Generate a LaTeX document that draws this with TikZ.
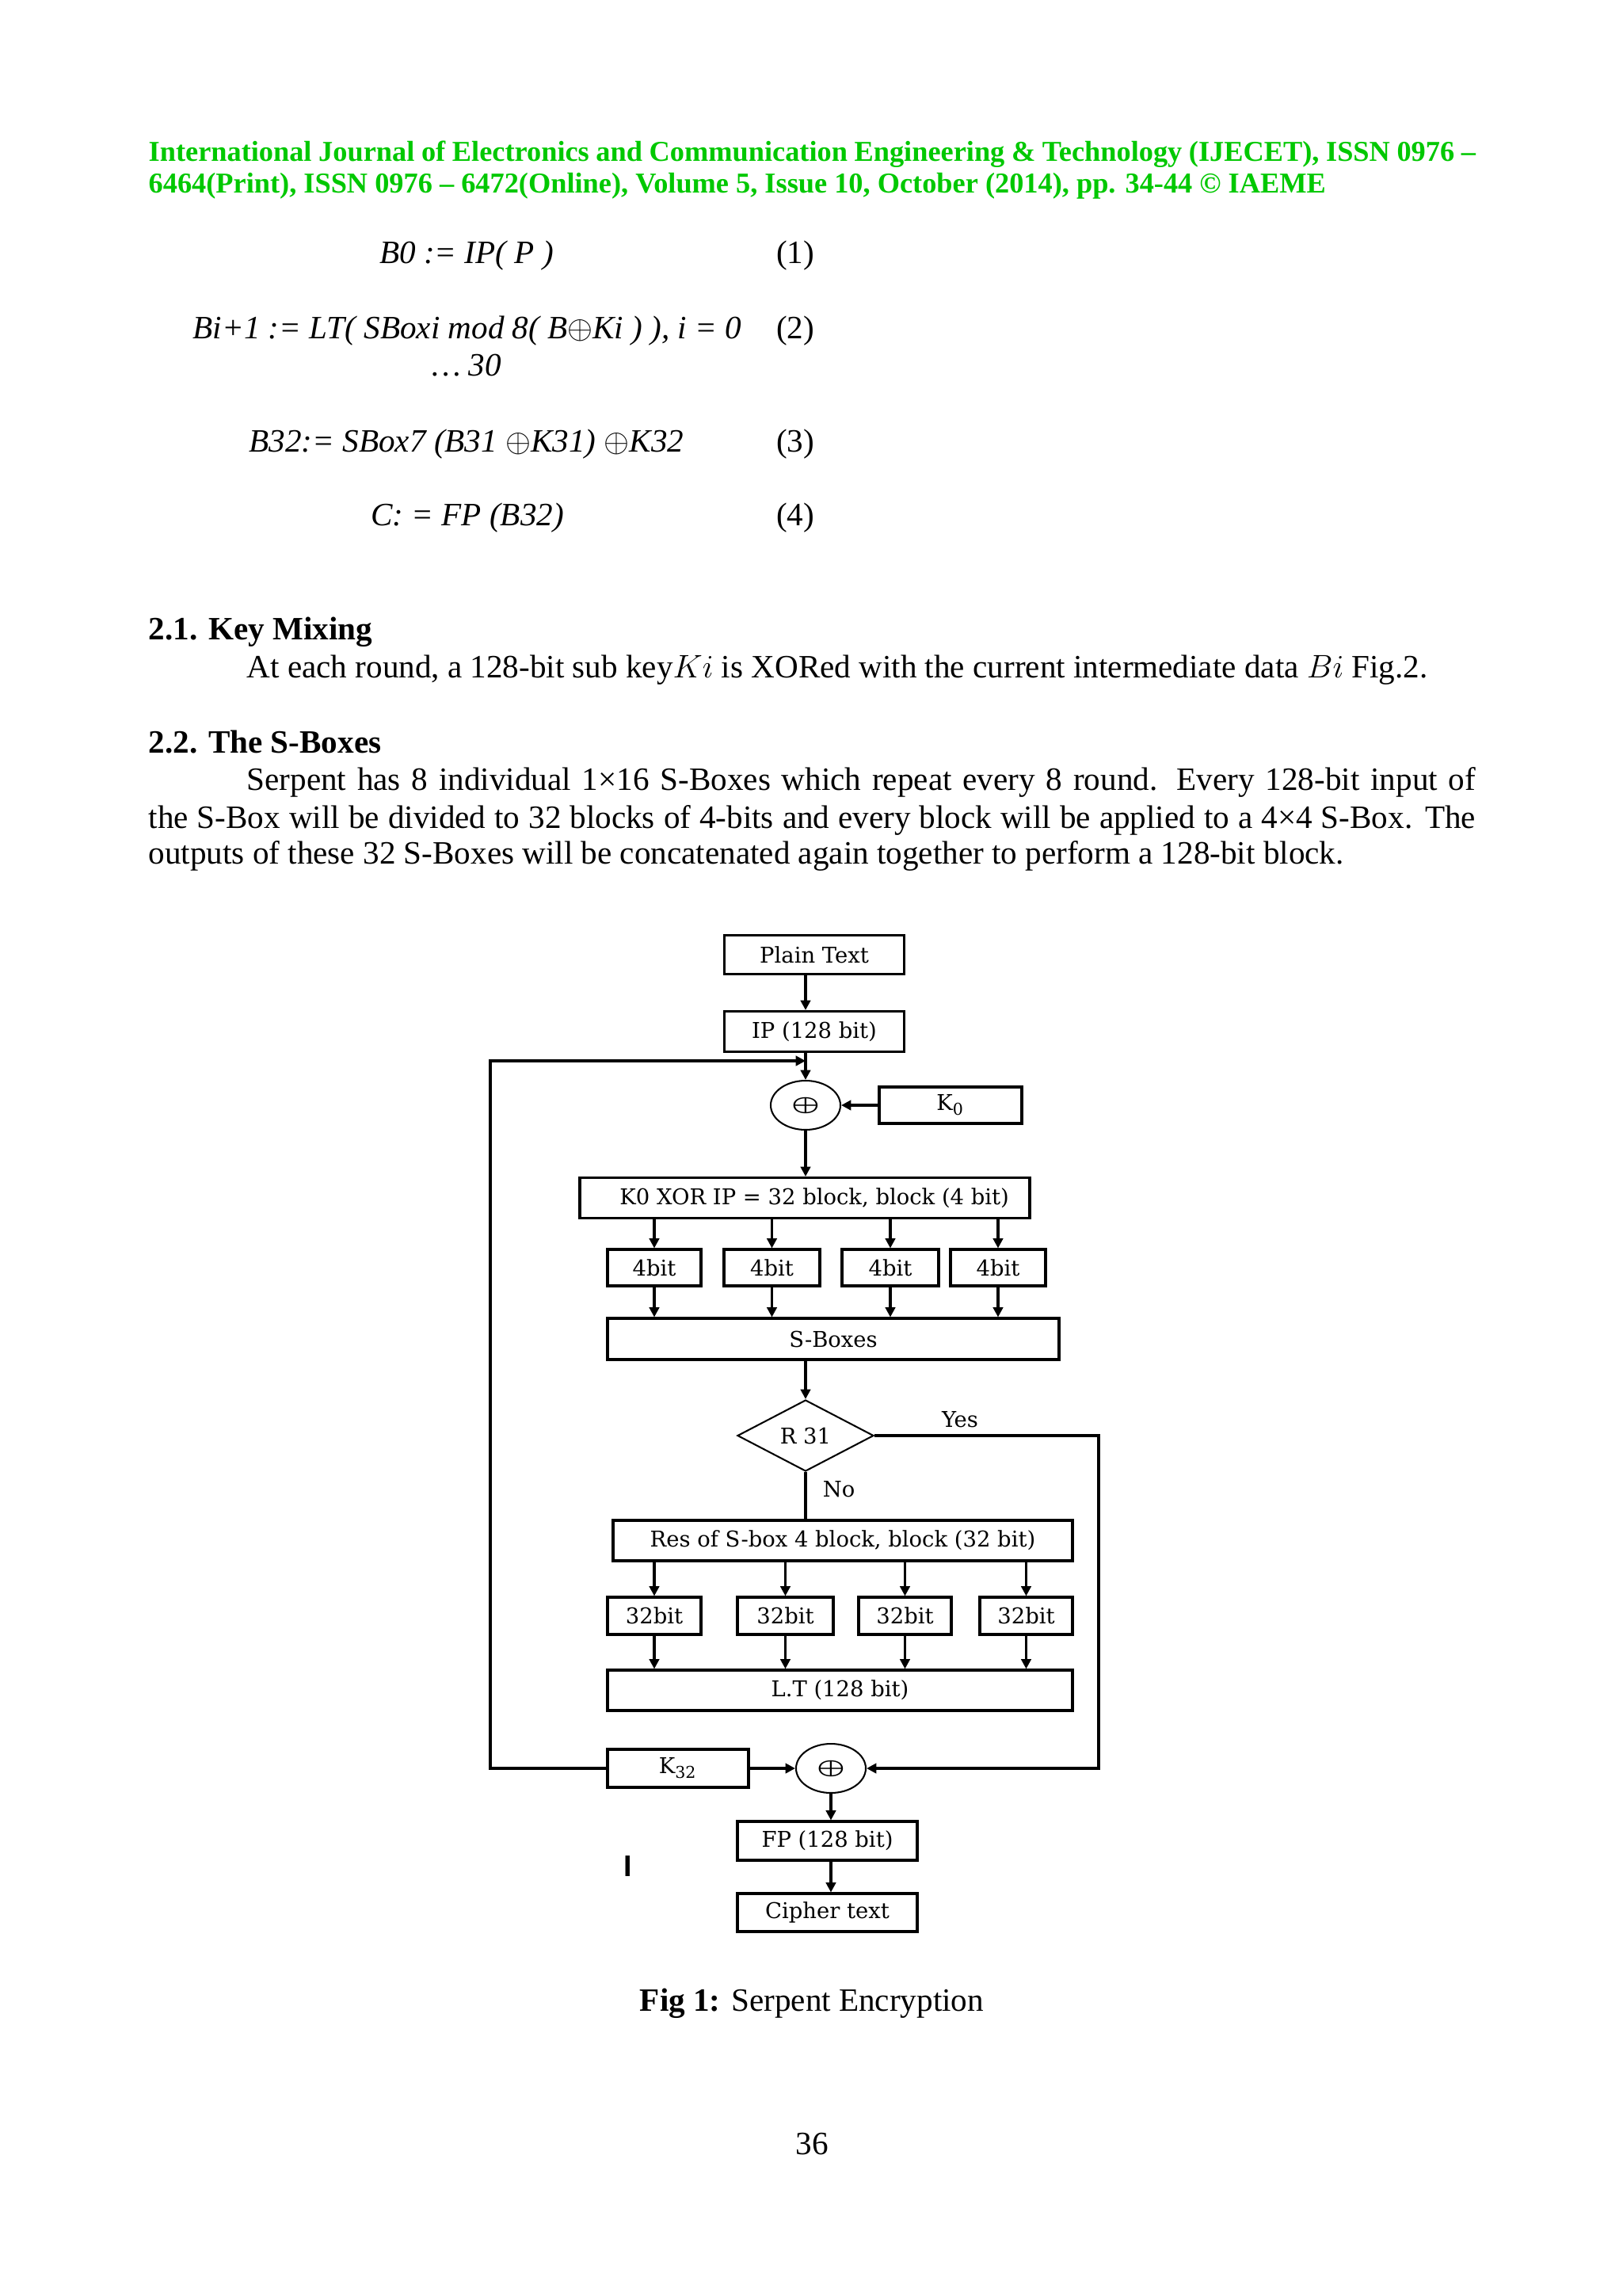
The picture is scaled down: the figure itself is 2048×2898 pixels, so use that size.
\documentclass[tikz,border=0pt]{standalone}
\usepackage{graphicx}
\usepackage{fontspec}
\setmainfont{Liberation Serif}
\newfontfamily\diafont{DejaVu Serif}
\newfontfamily\barfont{Liberation Sans}
\usetikzlibrary{arrows.meta, shapes.geometric, positioning}
\definecolor{hdrgreen}{RGB}{0,200,0}
\newcommand\pxu{0.01025cm}
\tikzset{
  txt/.style={anchor=base west, inner sep=0pt, font=\fontsize{12}{14}\selectfont},
  ctxt/.style={anchor=base, inner sep=0pt, font=\fontsize{12}{14}\selectfont},
  blk/.style={draw, line width=0.9pt, inner sep=0pt, font=\diafont\fontsize{8}{9}\selectfont},
  bsize/.style 2 args={minimum width=#1*\pxu, minimum height=#2*\pxu},
  xorc/.style={draw, ellipse, line width=0.6pt, minimum width=88*\pxu, minimum height=62*\pxu, inner sep=0pt, font=\fontsize{7}{8}\selectfont},
  lbl/.style={inner sep=0pt, font=\diafont\fontsize{8}{9}\selectfont},
  arr/.style={line width=0.9pt, -{Triangle[length=3.6pt,width=3.6pt]}},
  ln/.style={line width=0.9pt},
}
\newcommand\xorsym{{\boldmath\scalebox{1.5}[1]{$\oplus$}}}

\begin{document}
\begin{tikzpicture}[x=\pxu, y=-\pxu]
  \fill[white] (0,0) rectangle (2048,2898);
  \useasboundingbox (0,0) rectangle (2048,2898);

  % header
  \node[txt, text=hdrgreen, font=\bfseries\fontsize{10.6}{13}\selectfont] (hdr1) at (187,203)
    {\makebox[17.179cm][s]{International Journal of Electronics and Communication Engineering \& Technology (IJECET), ISSN 0976 –}};
  \node[txt, text=hdrgreen, font=\bfseries\fontsize{10.6}{13}\selectfont] (hdr2) at (187,243)
    {6464(Print), ISSN 0976 – 6472(Online), Volume 5, Issue 10, October (2014), pp. 34-44 © IAEME};

  % equations
  \node[ctxt, font=\itshape\fontsize{12}{14}\selectfont] (eq1) at (589,332) {B0 := IP( P )};
  \node[ctxt, font=\itshape\fontsize{12}{14}\selectfont] (eq2) at (590,427) {Bi+1 := LT( SBoxi mod 8( B$\oplus$Ki ) ), i = 0};
  \node[ctxt, font=\itshape\fontsize{12}{14}\selectfont] (eq2b) at (589,474) {\ldots\ 30};
  \node[ctxt, font=\itshape\fontsize{12}{14}\selectfont] (eq3) at (589,570) {B32:= SBox7 (B31 $\oplus$K31) $\oplus$K32};
  \node[ctxt, font=\itshape\fontsize{12}{14}\selectfont] (eq4) at (590,663) {C: = FP (B32)};
  \node[ctxt] (n1) at (1004,332) {(1)};
  \node[ctxt] (n2) at (1004,427) {(2)};
  \node[ctxt] (n3) at (1004,570) {(3)};
  \node[ctxt] (n4) at (1004,663) {(4)};

  % sections
  \node[txt, font=\bfseries\fontsize{12}{14}\selectfont] (sec1) at (187,807) {2.1. Key Mixing};
  \node[txt] (par1) at (311,855) {At each round, a 128-bit sub key$Ki$ is XORed with the current intermediate data $Bi$ Fig.2.};
  \node[txt, font=\bfseries\fontsize{12}{14}\selectfont] (sec2) at (187,950) {2.2. The S-Boxes};
  \node[txt] (par2a) at (311,997) {\makebox[15.908cm][s]{Serpent has 8 individual 1×16 S-Boxes which repeat every 8 round. Every 128-bit input of}};
  \node[txt] (par2b) at (187,1045) {\makebox[17.179cm][s]{the S-Box will be divided to 32 blocks of 4-bits and every block will be applied to a 4×4 S-Box. The}};
  \node[txt] (par2c) at (187,1090) {outputs of these 32 S-Boxes will be concatenated again together to perform a 128-bit block.};

  % flow chart
  \node[blk, bsize={227}{49}] (plain) at (1028,1205) {Plain Text};
  \node[blk, bsize={227}{51}] (ip) at (1028,1302) {IP (128 bit)};
  \node[xorc] (xor1) at (1017,1395) {\xorsym};
  \node[blk, bsize={180}{46}] (k0) at (1200,1395) {K\textsubscript{0}};
  \node[blk, bsize={568}{51}] (kxor) at (1016,1512) {\hspace{0.25cm}K0 XOR IP = 32 block, block (4 bit)};
  \foreach \i/\x/\w in {1/826/118, 2/974.5/121, 3/1124/122, 4/1260/120}
    \node[blk, bsize={\w}{46}] (b\i) at (\x,1600) {4bit};
  \node[blk, bsize={570}{52}] (sbox) at (1052,1690) {S-Boxes};
  \node[blk, diamond, line width=0.6pt, bsize={172}{90}] (dia) at (1017,1812) {R 31};
  \node[lbl] (yes) at (1212,1792) {Yes};
  \node[lbl] (no) at (1059,1880) {No};
  \node[blk, bsize={580}{51}] (res) at (1064,1944.5) {Res of S-box 4 block, block (32 bit)};
  \foreach \i/\x/\w in {1/826/118, 2/991.5/121, 3/1142.5/117, 4/1295.5/117}
    \node[blk, bsize={\w}{47}] (c\i) at (\x,2039.5) {32bit};
  \node[blk, bsize={587}{51}] (lt) at (1060.5,2133.5) {L.T (128 bit)};
  \node[xorc] (xor2) at (1049,2232) {\xorsym};
  \node[blk, bsize={178}{48}] (k32) at (856,2232) {K\textsubscript{32}};
  \node[blk, bsize={227}{49}] (fp) at (1044.5,2323.5) {FP (128 bit)};
  \node[blk, bsize={227}{48}] (ciph) at (1044.5,2414) {Cipher text};
  \node[inner sep=0pt, font=\barfont\bfseries\fontsize{11}{12}\selectfont] (mark) at (793,2355) {I};
  \coordinate (lf) at (619,1339);
  \coordinate (rt) at (1387,2232);

  \draw[arr] (plain.south -| xor1) -- (ip.north -| xor1);
  \draw[arr] (ip.south -| xor1) -- (xor1.north);
  \draw[arr] (k0.west) -- (xor1.east);
  \draw[arr] (xor1.south) -- (kxor.north -| xor1);
  \foreach \i in {1,...,4} {
    \draw[arr] (kxor.south -| b\i) -- (b\i.north);
    \draw[arr] (b\i.south) -- (b\i.south |- sbox.north);
  }
  \draw[arr] (sbox.south -| dia) -- (dia.north);
  \draw[arr] (dia.east) -- (dia.east -| rt) -- (rt) -- (xor2.east);
  \draw[ln] (dia.south) -- (res.north -| dia.south);
  \foreach \i in {1,...,4} {
    \draw[arr] (res.south -| c\i) -- (c\i.north);
    \draw[arr] (c\i.south) -- (c\i.south |- lt.north);
  }
  \draw[arr] (k32.west) -- (k32.west -| lf) -- (lf) -- (lf -| xor1);
  \draw[arr] (k32.east) -- (xor2.west);
  \draw[arr] (xor2.south) -- (fp.north -| xor2);
  \draw[arr] (fp.south -| xor2) -- (ciph.north -| xor2);

  % caption
  \node[ctxt] (cap) at (1025,2538) {\textbf{Fig 1:} Serpent Encryption};
  \node[ctxt] (pg) at (1025,2719) {36};
\end{tikzpicture}
\end{document}
